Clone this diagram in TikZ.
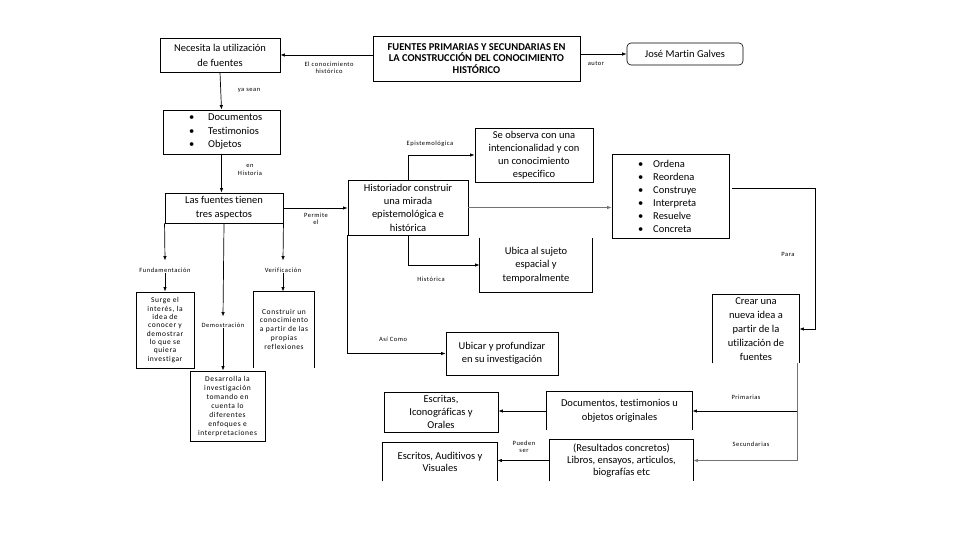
\documentclass[tikz,border=0pt]{standalone}
\usepackage{fontspec}
\setmainfont{Carlito}[Ligatures=NoCommon]
\newfontfamily\lblfont[LetterSpace=8,Ligatures=NoCommon]{Carlito}
\usetikzlibrary{arrows.meta}
\begin{document}
\begin{tikzpicture}[x=1pt,y=-1pt,
  box/.style={draw, line width=0.9pt, inner sep=0pt, align=center, font=\fontsize{10.5}{13.5}\selectfont},
  obox/.style={box, draw=none},
  sbox/.style={box, font=\lblfont\fontsize{7.5}{8.5}\selectfont},
  osbox/.style={sbox, draw=none},
  bline/.style={line width=0.9pt},
  lbl/.style={font=\lblfont\fontsize{6.5}{7.5}\selectfont, align=center, inner sep=1pt},
  arr/.style={line width=0.7pt, -{Latex[length=4.5pt,width=3.5pt]}},
  garr/.style={arr, draw=black!55},
  ln/.style={line width=0.7pt}]
\useasboundingbox (0,0) rectangle (960,540);

% boxes
\node[box, minimum width=207, minimum height=45, font=\bfseries\fontsize{10.5}{11.5}\selectfont] (title) at (476.5,58.5) {FUENTES PRIMARIAS Y SECUNDARIAS EN\\LA CONSTRUCCIÓN DEL CONOCIMIENTO\\HISTÓRICO};
\node[box, minimum width=120, minimum height=34, font=\fontsize{10.5}{15}\selectfont] (nec) at (220,55) {Necesita la utilización\\de fuentes};
\node[box, rounded corners=4pt, line width=0.6pt, minimum width=116, minimum height=22] (jose) at (685,54) {José Martin Galves};
\node[box, minimum width=117, minimum height=44, text width=117pt, align=left] (docs) at (221.5,132) {\hspace*{26pt}\textbullet\hspace{14pt}Documentos\\\hspace*{26pt}\textbullet\hspace{14pt}Testimonios\\\hspace*{26pt}\textbullet\hspace{14pt}Objetos};
\node[box, minimum width=118, minimum height=30, font=\fontsize{10.5}{14}\selectfont] (fuentes) at (224,208) {Las fuentes tienen\\tres aspectos};
\node[sbox, minimum width=58, minimum height=76, font=\lblfont\fontsize{7.5}{8.3}\selectfont] (surge) at (165,330) {Surge el\\interés, la\\idea de\\conocer y\\demostrar\\lo que se\\quiera\\investigar};
\node[sbox, minimum width=75, minimum height=70, font=\lblfont\fontsize{7.5}{9}\selectfont] (desarrolla) at (227.5,406) {Desarrolla la\\investigación\\tomando en\\cuenta lo\\diferentes\\enfoques e\\interpretaciones};
\node[osbox, minimum width=60, minimum height=76, font=\lblfont\fontsize{7.5}{8.8}\selectfont] (construir) at (284,330) {\raisebox{4pt}{\begin{tabular}{@{}c@{}}Construir un\\conocimiento\\a partir de las\\propias\\reflexiones\end{tabular}}};
\node[box, minimum width=120, minimum height=55, font=\fontsize{10.5}{13.3}\selectfont] (hist) at (408,207.5) {Historiador construir\\una mirada\\epistemológica e\\histórica};
\node[box, minimum width=118, minimum height=54, font=\fontsize{10.5}{13}\selectfont] (seobs) at (534,155) {Se observa con una\\intencionalidad y con\\un conocimiento\\especifico};
\node[obox, minimum width=112, minimum height=54] (ubica) at (536,265) {Ubica al sujeto\\espacial y\\temporalmente};
\node[box, minimum width=112, minimum height=43] (ubicar) at (502,353.5) {Ubicar y profundizar\\en su investigación};
\node[box, minimum width=117, minimum height=84, text width=117pt, align=left, font=\fontsize{10.5}{13}\selectfont] (ordena) at (670.5,196) {\hspace*{26pt}\textbullet\hspace{10pt}Ordena\\\hspace*{26pt}\textbullet\hspace{10pt}Reordena\\\hspace*{26pt}\textbullet\hspace{10pt}Construye\\\hspace*{26pt}\textbullet\hspace{10pt}Interpreta\\\hspace*{26pt}\textbullet\hspace{10pt}Resuelve\\\hspace*{26pt}\textbullet\hspace{10pt}Concreta};
\node[obox, minimum width=86, minimum height=68, font=\fontsize{10.5}{14}\selectfont] (crear) at (756,329) {Crear una\\nueva idea a\\partir de la\\utilización de\\fuentes};
\node[obox, minimum width=145, minimum height=38] (docorig) at (619.5,411) {Documentos, testimonios u\\objetos originales};
\node[box, minimum width=114, minimum height=40, font=\fontsize{10.5}{13}\selectfont] (escritas) at (441,412) {Escritas,\\Iconográficas y\\Orales};
\node[obox, minimum width=143, minimum height=41, font=\fontsize{10.5}{12}\selectfont] (result) at (621.5,460.5) {(Resultados concretos)\\Libros, ensayos, articulos,\\biografías etc};
\node[obox, minimum width=114, minimum height=38, font=\fontsize{10.5}{12}\selectfont] (escritos) at (440,462) {Escritos, Auditivos y\\Visuales};

% open box borders
\draw[bline] (construir.south west) -- (construir.north west) -- (construir.north east) -- (construir.south east);
\draw[bline] (ubica.north west) -- (ubica.south west) -- (ubica.south east) -- (ubica.north east);
\draw[bline] (crear.south west) -- (crear.north west) -- (crear.north east) -- (crear.south east);
\draw[bline] (docorig.south west) -- (docorig.north west) -- (docorig.north east) -- (docorig.south east);
\draw[bline] (result.south west) -- (result.north west) -- (result.north east) -- (result.south east);
\draw[bline] (escritos.south west) -- (escritos.north west) -- (escritos.north east) -- (escritos.south east);

% labels
\node[lbl] (lconoc) at (329,68) {El conocimiento\\histórico};
\node[lbl] (lautor) at (596,63) {autor};
\node[lbl] (lyasean) at (249,90) {ya sean};
\node[lbl] (lenhist) at (250,170) {en\\Historia};
\node[lbl] (lpermite) at (316,219) {Permite\\el};
\node[lbl] (lfund) at (165,270) {Fundamentación};
\node[lbl] (ldem) at (223,325) {Demostración};
\node[lbl] (lver) at (283,270) {Verificación};
\node[lbl] (lepis) at (430,144) {Epistemológica};
\node[lbl] (lhist) at (431,279) {Histórica};
\node[lbl] (lasi) at (393,339) {Así Como};
\node[lbl] (lpara) at (788,254) {Para};
\node[lbl] (lprim) at (746,397) {Primarias};
\node[lbl] (lsec) at (751,444) {Secundarias};
\node[lbl] (lpueden) at (524,447) {Pueden\\ser};

% connectors
\draw[arr] (title.west |- nec.east) -- (nec.east);
\draw[arr] (title.east |- jose.west) -- (jose.west);
\draw[arr] (nec.south) -- (docs.north);
\draw[arr] (docs.south) -- (docs.south |- fuentes.north);
\draw[arr] (fuentes.east) -- (fuentes.east -| hist.west);
\draw[arr] (fuentes.south west) -- ([yshift=6pt]lfund.north);
\draw[arr] (lfund.south) -- (surge.north);
\draw[arr] (fuentes.south) -- ([yshift=5pt]ldem.north);
\draw[arr] (ldem.south) -- (ldem.south |- desarrolla.north);
\draw[arr] (fuentes.south east) -- ([yshift=6pt]lver.north);
\draw[arr] (lver.south) -- (lver.south |- construir.north);
\draw[arr] (hist.north) |- (seobs.west);
\draw[garr] (hist.east) -- (hist.east -| ordena.west);
\draw[arr] (hist.south) |- (ubica.west);
\draw[arr] (hist.south west) |- (ubicar.west);
\coordinate (pc) at (815,188);
\draw[arr] ([xshift=3pt,yshift=8pt]ordena.east) -- (pc) |- (crear.east);
\coordinate (cb) at (797,363);
\draw[arr] (cb) |- (docorig.east);
\draw[garr] (cb) |- (result.east);
\draw[arr] (docorig.west) -- (docorig.west -| escritas.east);
\draw[arr] (result.west) -- (result.west -| escritos.east);
\end{tikzpicture}
\end{document}
